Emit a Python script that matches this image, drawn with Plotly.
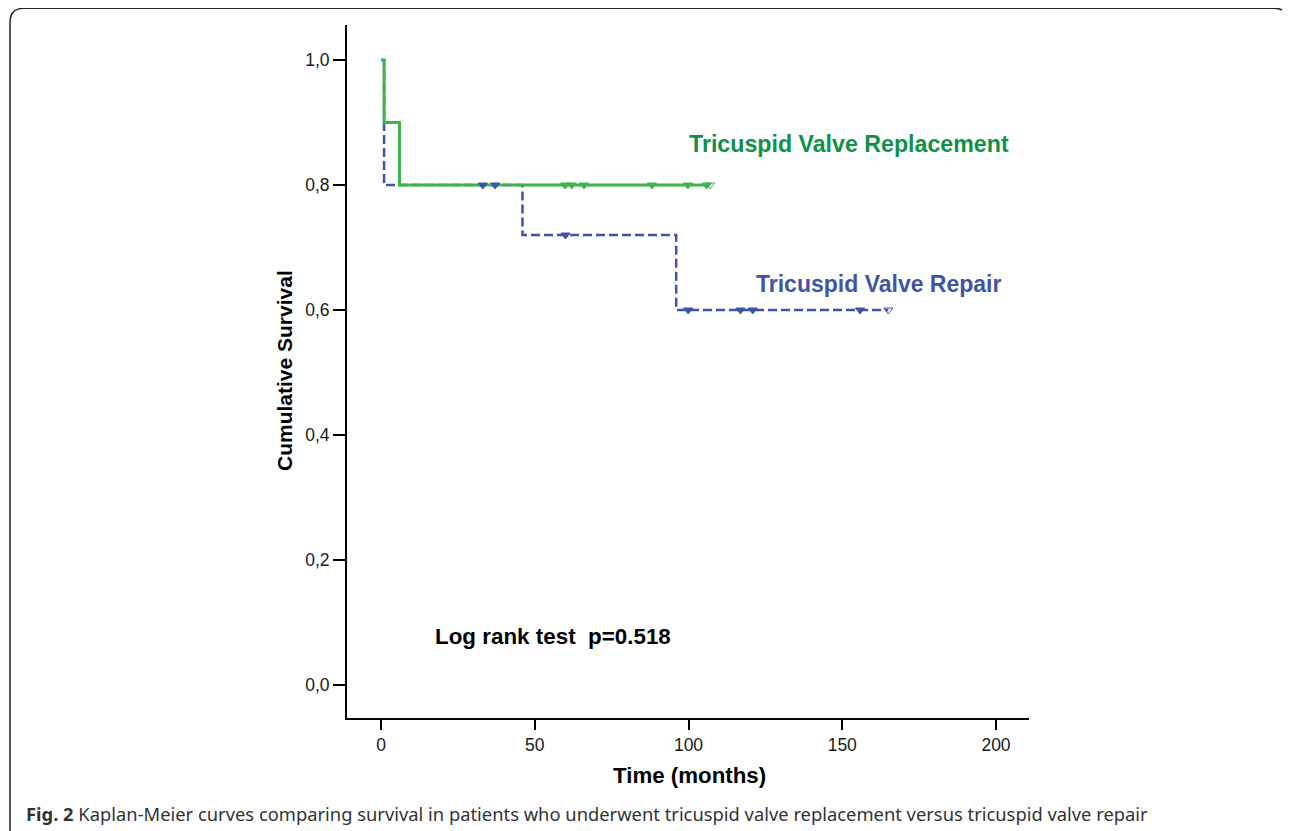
import plotly.graph_objects as go

# ---- data ----
tvr_time = [0, 1, 6, 107]
tvr_surv = [1.0, 0.9, 0.8, 0.8]
tvr_cens_time = [59.9, 62.0, 66.0, 88.1, 99.8, 105.9, 107.0]
tvr_cens_surv = [0.8, 0.8, 0.8, 0.8, 0.8, 0.8, 0.8]

rep_time = [0, 1, 46, 96, 165]
rep_surv = [1.0, 0.8, 0.72, 0.6, 0.6]
rep_cens_time = [33.1, 37.1, 60.0, 99.9, 116.9, 120.9, 155.8, 165.0]
rep_cens_surv = [0.8, 0.8, 0.72, 0.6, 0.6, 0.6, 0.6, 0.6]

x_ticks = [0, 50, 100, 150, 200]
y_ticks = [0.0, 0.2, 0.4, 0.6, 0.8, 1.0]
y_tick_text = ["0,0", "0,2", "0,4", "0,6", "0,8", "1,0"]

GREEN = "#3cb54a"
GREEN_TXT = "#0f9147"
BLUE = "#3f54a6"
FONT = "Liberation Sans, Arial, sans-serif"

OFF = 8  # page body margin
W, H = 1290 - OFF, 831 - OFF
# plot area in reference-screen pixels
RL, RR, RT, RB = 347, 1029, 25, 718
L, R, T, B = RL - OFF, RR - OFF, RT - OFF, RB - OFF


def px(x):
    return (x - RL) / (RR - RL)


def py(y):
    return (RB - y) / (RB - RT)


fig = go.Figure()
fig.add_trace(go.Scatter(x=rep_time, y=rep_surv, mode="lines", line_shape="hv",
                         line=dict(color=BLUE, width=2.5, dash="9px,4px"), showlegend=False))
fig.add_trace(go.Scatter(x=tvr_time, y=tvr_surv, mode="lines", line_shape="hv",
                         line=dict(color=GREEN, width=3), showlegend=False))
n_r = len(rep_cens_time)
fig.add_trace(go.Scatter(x=rep_cens_time, y=rep_cens_surv, mode="markers",
                         marker=dict(symbol=["triangle-down"] * (n_r - 1) + ["triangle-down-open"],
                                     size=8, color=BLUE, line=dict(color=BLUE, width=1)),
                         showlegend=False))
n_g = len(tvr_cens_time)
fig.add_trace(go.Scatter(x=tvr_cens_time, y=tvr_cens_surv, mode="markers",
                         marker=dict(symbol=["triangle-down"] * (n_g - 1) + ["triangle-down-open"],
                                     size=8, color=GREEN, line=dict(color=GREEN, width=1)),
                         showlegend=False))

x0 = -11.06
x1 = (RR - 381) / 3.075
fig.update_xaxes(range=[x0, x1], tickvals=x_ticks, showline=True, linecolor="black", linewidth=2,
                 ticks="outside", ticklen=10, tickwidth=2, tickcolor="black",
                 showgrid=False, zeroline=False,
                 tickfont=dict(family=FONT, size=17.5, color="#1a1a1a"))
fig.update_yaxes(range=[-33 / 625, 1 + 35 / 625], tickvals=y_ticks, ticktext=y_tick_text,
                 showline=True, linecolor="black", linewidth=2,
                 ticks="outside", ticklen=12, tickwidth=2, tickcolor="black",
                 showgrid=False, zeroline=False,
                 tickfont=dict(family=FONT, size=17.5, color="#1a1a1a"))

ann = [
    dict(text="<b>Tricuspid Valve Replacement</b>", x=px(849), y=py(144), font=dict(size=23.2, color=GREEN_TXT)),
    dict(text="<b>Tricuspid Valve Repair</b>", x=px(878.5), y=py(284), font=dict(size=23, color=BLUE)),
    dict(text="<b>Log rank test  p=0.518</b>", x=px(553), y=py(636), font=dict(size=22.4, color="black")),
    dict(text="<b>Cumulative Survival</b>", x=px(284), y=py(371), textangle=-90, font=dict(size=21, color="black")),
    dict(text="<b>Time (months)</b>", x=px(689.5), y=py(776), font=dict(size=22.3, color="black")),
]
annotations = []
for a in ann:
    a["font"]["family"] = FONT
    a.update(xref="paper", yref="paper", showarrow=False, xanchor="center", yanchor="middle")
    annotations.append(a)
annotations.append(dict(
    text="<b>Fig. 2</b> Kaplan-Meier curves comparing survival in patients who underwent tricuspid valve replacement versus tricuspid valve repair",
    x=px(24), y=py(813), xref="paper", yref="paper", showarrow=False, xanchor="left", yanchor="middle",
    font=dict(family="Noto Sans, Open Sans, sans-serif", size=18.35, color="#333")))

# rounded frame (reference pixel coords)
r = 14
top = 8.3
path = (f"M {px(10)},{py(850)} L {px(10)},{py(top + r)} Q {px(10)},{py(top)} {px(10 + r)},{py(top)} "
        f"L {px(1288 - r)},{py(top)} Q {px(1288)},{py(top)} {px(1288)},{py(top + r)} L {px(1288)},{py(850)}")
shapes = [dict(type="path", path=path, xref="paper", yref="paper",
               line=dict(color="#222", width=1.5), layer="below")]

fig.update_layout(width=W, height=H, margin=dict(l=L, r=W - R, t=T, b=H - B),
                  paper_bgcolor="white", plot_bgcolor="white",
                  annotations=annotations, shapes=shapes)

fig.write_html("out.html")
